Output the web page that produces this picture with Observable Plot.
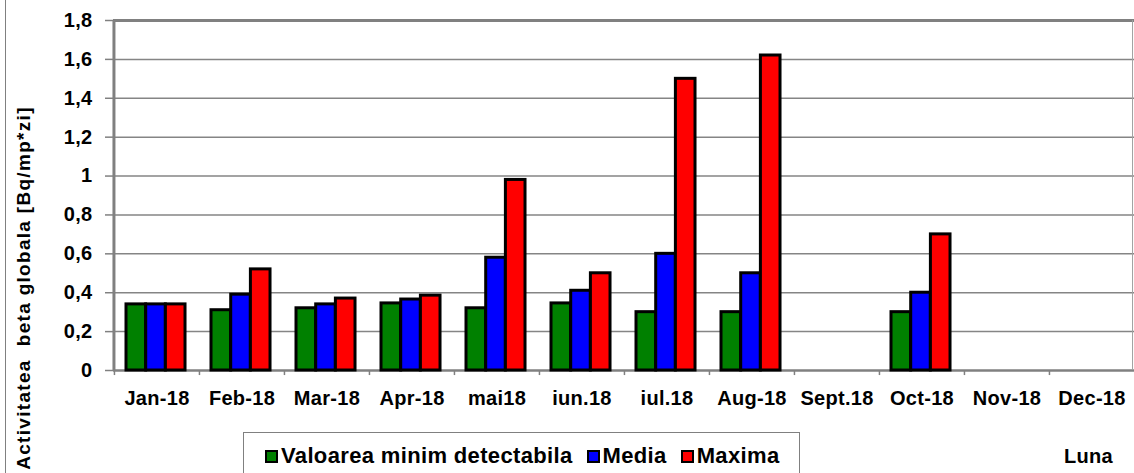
<!DOCTYPE html>
<html><head><meta charset="utf-8">
<script src="https://cdn.jsdelivr.net/npm/d3@7"></script>
<script src="https://cdn.jsdelivr.net/npm/@observablehq/plot@0.6"></script>
<style>
body{margin:0;background:#fff;font-family:"Liberation Sans",Arial,sans-serif;font-weight:bold;color:#000;}
#wrap{position:relative;width:1134px;height:473px;overflow:hidden;background:#fff;}
#wrap svg{display:block;}
.ylab{position:absolute;left:-176px;top:276px;width:400px;height:24px;line-height:24px;text-align:center;white-space:pre;font-size:19px;letter-spacing:1.3px;transform:rotate(-90deg);}
.lborder{position:absolute;left:5px;top:0;width:1px;height:473px;background:#808080;}
.legend{position:absolute;left:243px;top:432px;width:557px;height:60px;box-sizing:border-box;border:1.5px solid #808080;display:flex;align-items:flex-start;padding-top:12px;padding-left:21px;font-size:22px;line-height:1;letter-spacing:0.35px;}
.item{display:flex;align-items:center;margin-right:14px;white-space:nowrap;}
.sw{width:13px;height:13px;box-sizing:border-box;border:2px solid #000;margin-right:3px;margin-top:1px;}
.luna{position:absolute;left:1064px;top:446px;font-size:20px;line-height:1;letter-spacing:0.3px;}
</style></head><body><div id="wrap"></div>
<script>
const months = ["Jan-18","Feb-18","Mar-18","Apr-18","mai18","iun.18","iul.18","Aug-18","Sept.18","Oct-18","Nov-18","Dec-18"];
const seriesNames = ["Valoarea minim detectabila","Media","Maxima"];
const seriesColors = ["#008000","#0000ff","#ff0000"];
const minDetect = [0.34,0.31,0.32,0.345,0.32,0.345,0.30,0.30,null,0.30,null,null];
const media     = [0.34,0.39,0.34,0.365,0.58,0.41,0.60,0.50,null,0.40,null,null];
const maxima    = [0.34,0.52,0.37,0.385,0.98,0.50,1.50,1.62,null,0.70,null,null];
const yTicks = [0,0.2,0.4,0.6,0.8,1,1.2,1.4,1.6,1.8];
const yLabel = "Activitatea  beta globala [Bq/mp*zi]";
const xLabel = "Luna";

const W = 1134, H = 432, mL = 113, mR = 0, mT = 20, mB = 62;
const bandW = (W - mL - mR) / months.length;
const groupLeft = 12, barW = 19.7;

const seriesValues = [minDetect, media, maxima];
const barMarks = seriesValues.map((vals, i) => {
  const rows = months.map((m, j) => ({month: m, value: vals[j]})).filter(d => d.value != null);
  return Plot.barY(rows, {
    x: "month", y: "value",
    fill: seriesColors[i], stroke: "#000", strokeWidth: 3,
    insetLeft: groupLeft + i * barW,
    insetRight: bandW - groupLeft - (i + 1) * barW
  });
});

const fmt = d => String(d).replace(".", ",");

const chart = Plot.plot({
  width: W, height: H,
  marginLeft: mL, marginRight: mR, marginTop: mT, marginBottom: mB,
  style: {fontFamily: "'Liberation Sans', Arial, sans-serif", fontWeight: "bold", fontSize: "20px", color: "#000", background: "transparent", overflow: "visible"},
  x: {type: "band", domain: months, padding: 0},
  y: {domain: [0, 1.8]},
  marks: [
    Plot.ruleY(yTicks.filter(d => d > 0 && d < 1.8), {stroke: "#858585", strokeWidth: 1.5}),
    Plot.ruleY([1.8], {stroke: "#808080", strokeWidth: 3}),
    Plot.ruleY([0], {stroke: "#808080", strokeWidth: 2.5}),
    Plot.ruleX([months[0]], {dx: -bandW / 2 - 0.5, stroke: "#808080", strokeWidth: 3}),
    Plot.ruleX([months[months.length - 1]], {dx: bandW / 2 - 2, stroke: "#a0a0a0", strokeWidth: 1}),
    Plot.ruleX(months, {x: d => d, dx: -bandW / 2, y1: 0, y2: -0.026, stroke: "#808080", strokeWidth: 1.5}),
    ...barMarks,
    Plot.axisY(yTicks, {tickSize: 8, tickPadding: 13, tickFormat: fmt, stroke: "#808080", strokeWidth: 1.5, fontSize: 20, fontWeight: "bold", label: null}),
    Plot.axisX({tickSize: 0, tickPadding: 20, fontSize: 20, fontWeight: "bold", label: null})
  ]
});
chart.querySelectorAll("text").forEach(t => t.style.letterSpacing = "0.3px");

const wrap = document.getElementById("wrap");
wrap.appendChild(chart);

const lb = document.createElement("div"); lb.className = "lborder"; wrap.appendChild(lb);
const yl = document.createElement("div"); yl.className = "ylab"; yl.textContent = yLabel; wrap.appendChild(yl);

const leg = document.createElement("div"); leg.className = "legend";
seriesNames.forEach((n, i) => {
  const it = document.createElement("div"); it.className = "item";
  const sw = document.createElement("span"); sw.className = "sw"; sw.style.background = seriesColors[i];
  const tx = document.createElement("span"); tx.textContent = n;
  it.appendChild(sw); it.appendChild(tx); leg.appendChild(it);
});
wrap.appendChild(leg);
const lu = document.createElement("div"); lu.className = "luna"; lu.textContent = xLabel; wrap.appendChild(lu);
</script></body></html>
